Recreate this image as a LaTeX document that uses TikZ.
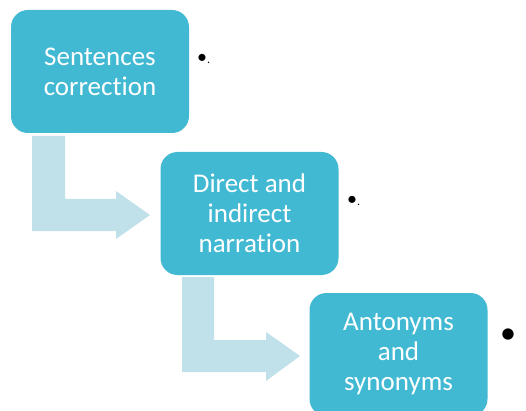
\documentclass[tikz,border=0pt]{standalone}
\usepackage{fontspec}
\setmainfont{Carlito}[Ligatures=NoCommon]
\definecolor{boxblue}{RGB}{66,185,211}
\definecolor{arrowblue}{RGB}{193,225,234}
\begin{document}
\begin{tikzpicture}[x=1pt,y=-1pt,
  box/.style={fill=boxblue, rounded corners=17pt, minimum width=178pt, minimum height=123pt,
    text=white, align=center, font=\fontsize{27}{30}\selectfont, inner sep=0pt},
  bendarrow/.style={fill=arrowblue},
  bul/.style={anchor=base west, inner sep=0pt, text=black}]
\useasboundingbox (0,0) rectangle (526,411);
\clip (0,0) rectangle (526,411);
\fill[white] (0,0) rectangle (526,411);
% bent block arrows
\fill[bendarrow] (32,136) -- (65,136) -- (65,199) -- (116,199) -- (116,191) -- (150,215) -- (116,239) -- (116,231) -- (32,231) -- cycle;
\fill[bendarrow] (182,277) -- (214,277) -- (214,340) -- (266,340) -- (266,332) -- (300,356) -- (266,381) -- (266,372) -- (182,372) -- cycle;
% boxes
\node[box] (b1) at (100,71.5) {Sentences\\correction};
\node[box] (b2) at (249.5,213.5) {Direct and\\indirect\\narration};
\node[box] (b3) at (398.5,354.5) {Antonyms\\and\\synonyms};
% bullets
\node[bul, font=\fontsize{20}{20}\selectfont] (d1) at (197,64) {•{\fontsize{12}{12}\selectfont.}};
\node[bul, font=\fontsize{20}{20}\selectfont] (d2) at (347,206) {•{\fontsize{12}{12}\selectfont.}};
\node[bul, font=\fontsize{32}{32}\selectfont] (d3) at (500,343) {•};
\end{tikzpicture}
\end{document}
